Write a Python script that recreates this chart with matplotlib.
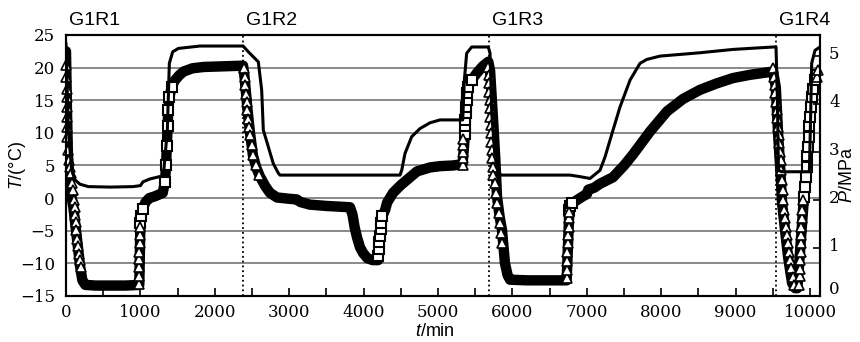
import matplotlib
matplotlib.use('Agg')
import matplotlib.pyplot as plt
import matplotlib.transforms as mtransforms

plt.rcParams['mathtext.fontset'] = 'custom'
plt.rcParams['mathtext.it'] = 'Liberation Sans:italic'
plt.rcParams['mathtext.rm'] = 'Liberation Sans'

# temperature, square markers (left axis)
t_sq = [0, 12, 25, 45, 70, 100, 130, 160, 190, 220, 260, 400, 600, 800, 985,
        1000, 1010, 1030, 1070, 1120, 1200, 1300, 1330, 1345, 1355, 1365, 1375,
        1390, 1420, 1460, 1520, 1580, 1700, 1850, 2100, 2380,
        2400, 2440, 2473, 2513, 2560, 2607, 2680, 2742, 2836, 3000, 3100, 3150,
        3280, 3500, 3817, 3850, 3880, 3911, 3950, 3992, 4050, 4120, 4194,
        4200, 4205, 4212, 4220, 4228, 4238, 4250, 4290, 4315, 4395, 4500, 4583,
        4718, 4892, 5027, 5200, 5330,
        5363, 5363, 5365, 5370, 5375, 5385, 5392, 5408, 5453, 5524, 5600, 5676,
        5700, 5740, 5770, 5793, 5830, 5860, 5900, 5935, 5968, 6200, 6500, 6729,
        6765, 6780, 6800, 6868, 6950, 7000, 7020, 7100, 7177, 7352, 7500, 7621,
        7849, 8078, 8293, 8522, 8750, 8965, 9194, 9503,
        9540, 9570, 9600, 9624, 9664, 9705, 9758, 9800, 9830,
        9919, 9933, 9946, 9955, 9964, 9973, 9982, 9991, 10000, 10013, 10027,
        10045, 10067, 10098, 10134]
T_sq = [22.5, 14, 7, 3, 0.5, -1.5, -4.5, -7.5, -10.5, -12.6, -13.3, -13.4, -13.4, -13.4, -13.3,
        -3.8, -2.8, -1.6, -0.6, 0.0, 0.3, 0.8, 2.5, 5, 8, 11, 13.5,
        15.5, 17.0, 18.0, 18.8, 19.4, 19.9, 20.1, 20.2, 20.3,
        18.5, 13.5, 10.0, 6.5, 4.6, 3.3, 1.8, 0.8, 0.1, -0.1, -0.2, -0.6,
        -1.0, -1.2, -1.4, -2.5, -4.5, -6.0, -7.5, -8.4, -9.2, -9.5, -9.5,
        -8.8, -7.8, -6.8, -5.8, -4.8, -3.8, -2.8, -1.8, -0.7, 0.8, 2.0, 2.8,
        4.1, 4.7, 4.9, 5.0, 5.2,
        9.9, 11.0, 12.0, 13.0, 14.0, 15.0, 16.1, 17.1, 18.1, 19.2, 20.2, 20.9,
        19.5, 12, 6, 0.2, -3, -4.9, -10, -11.8, -12.5, -12.6, -12.6, -12.6,
        -1.8, -1.2, -0.8, -0.3, 0.3, 0.6, 1.3, 1.6, 2.2, 3.2, 5.0, 6.7,
        10.2, 13.3, 15.2, 16.6, 17.6, 18.4, 18.9, 19.4,
        17, 10, 4.5, -0.7, -4.9, -9, -13, -13.8, -13.8,
        0.2, 1.75, 3.3, 4.8, 6.4, 7.9, 9.4, 11.0, 12.5, 14.0, 15.5,
        16.8, 18.1, 18.9, 19.4]

# time spans where the squares stand apart as open marks
sq_open_spans = [(1000, 1030), (1330, 1420), (4200, 4255), (5363, 5453),
                 (6765, 6800), (9919, 10098)]

# temperature, triangle markers (left axis)
t_tri = [5, 6, 8, 9, 10, 12, 14, 20, 30, 45, 54, 62, 80, 90, 107, 115, 125, 134, 140, 150, 161, 170, 188, 200,
         980, 981, 982, 984, 986, 988, 990, 995,
         2392, 2401, 2410, 2419, 2428, 2437, 2446, 2460, 2473, 2495, 2518, 2554, 2598,
         5332, 5332, 5335, 5338, 5340,
         5676, 5680, 5685, 5690, 5695, 5699, 5704, 5708, 5713, 5717, 5721, 5726, 5735,
         5744, 5766, 5780, 5798, 5815, 5833, 5847, 5860,
         6729, 6732, 6735, 6740, 6745, 6750, 6755, 6760, 6765,
         9507, 9516, 9525, 9534, 9543, 9552, 9561, 9570, 9579, 9588, 9597, 9606, 9615,
         9624, 9633, 9642, 9655, 9668, 9682, 9695, 9709, 9722, 9735, 9749, 9767, 9785,
         9855, 9860, 9864, 9868, 9872, 9876, 9880, 9884, 9888, 9893, 9900,
         10090, 10110]
T_tri = [20.4, 18.6, 16.8, 15.5, 14.0, 12.5, 10.9, 9.4, 7.4, 5.8, 4.8, 3.8, 2.3, 1.2, -0.3, -1.3, -2.6, -3.6, -4.9, -6.2, -7.4, -8.5, -9.5, -10.5,
         -13.1, -11.9, -10.6, -9.4, -8.2, -6.9, -5.6, -4.5,
         19.9, 18.6, 17.3, 16.0, 14.8, 13.5, 12.2, 10.9, 9.7, 8.2, 6.6, 5.1, 3.6,
         5.1, 6.1, 7.1, 8.1, 9.1,
         20.15, 18.87, 17.59, 16.32, 15.04, 13.76, 12.48, 11.21, 9.93, 8.65, 7.38, 6.10, 4.82,
         3.54, 2.27, 0.73, -0.8, -2.33, -3.86, -5.4, -6.93,
         -12.3, -11.0, -9.7, -8.2, -6.9, -5.6, -4.4, -3.1, -2.1,
         19.89, 18.61, 17.34, 16.06, 14.78, 13.51, 12.23, 10.95, 9.67, 8.4, 7.12, 5.84, 4.31,
         2.78, 1.24, -0.29, -1.82, -3.1, -4.37, -5.65, -6.93, -8.2, -9.48, -10.76, -12.04, -13.31,
         -13.3, -12.0, -10.8, -9.5, -8.2, -6.9, -5.65, -4.37, -3.1, -1.8, -0.3,
         18.6, 19.6]

# pressure (right axis)
t_p = [0, 31, 76, 121, 188, 300, 600, 900, 1000, 1035, 1129, 1263, 1308, 1362, 1389,
       1434, 1510, 1800, 2380, 2450, 2540, 2585, 2630, 2652, 2719, 2786, 2854, 2876,
       4000, 4489, 4512, 4556, 4646, 4758, 4892, 5027, 5332, 5354, 5385, 5453, 5676,
       5699, 5722, 5766, 5811, 5856, 6774, 6900, 7043, 7177, 7245, 7312, 7446, 7581,
       7715, 7805, 7984, 8521, 8969, 9507, 9543, 9561, 9575, 9620, 9991, 10009, 10022,
       10067, 10134]
P = [5.25, 3.46, 2.62, 2.42, 2.33, 2.28, 2.27, 2.28, 2.30, 2.38, 2.44, 2.49, 2.50, 3.46, 4.85,
     5.09, 5.16, 5.21, 5.21, 5.09, 4.95, 4.88, 4.29, 3.46, 3.11, 2.76, 2.56, 2.52,
     2.52, 2.52, 2.62, 2.97, 3.32, 3.49, 3.61, 3.67, 3.67, 4.50, 5.06, 5.19, 5.19,
     5.06, 3.81, 2.90, 2.56, 2.52, 2.52, 2.49, 2.45, 2.62, 2.90, 3.25, 3.94, 4.50,
     4.85, 4.93, 5.00, 5.07, 5.14, 5.19, 5.19, 4.15, 2.62, 2.59, 2.59, 3.80, 4.85,
     5.12, 5.19]
p_ticks = [0, 1, 2, 3, 4, 5]

cycle_t = [0, 2380, 5685, 9543]
cycle_lbl = ['G1R1', 'G1R2', 'G1R3', 'G1R4']

fig = plt.figure(figsize=(8.6, 3.42), dpi=100)
ax = fig.add_axes([66 / 860, 1 - 296 / 342, 754 / 860, 261 / 342])
ax2 = ax.twinx()

ax.set_xlim(0, 10134)
ax.set_ylim(-15, 25)
ax.set_yticks(range(-15, 26, 5))
ax.set_xticks(range(0, 10001, 1000))
ax.set_xticks(range(500, 10001, 1000), minor=True)
ax.yaxis.grid(True, color='#808080', lw=1.3)
ax.set_axisbelow(True)
ax.tick_params(axis='x', which='both', direction='in', length=6, width=1.2, pad=6,
               labelsize=12, labelfontfamily='DejaVu Serif')
ax.tick_params(axis='y', length=0, pad=8, labelsize=12, labelfontfamily='DejaVu Serif')

# right axis: tick marks from matplotlib, labels placed by hand so that
# the "0" sits above the x labels like in the original
ax2.set_ylim(0, 5.44)
ax2.set_yticks(p_ticks)
ax2.tick_params(axis='y', direction='in', length=5, width=1.2, labelright=False)
rtrans = mtransforms.blended_transform_factory(ax2.transAxes, ax2.transData)
for p in p_ticks:
    up = 7 if p == 0 else 2
    tr = mtransforms.offset_copy(rtrans, fig=fig, x=9, y=up, units='dots')
    ax2.text(1.0, p, str(p), transform=tr, ha='left', va='center',
             fontsize=12, family='DejaVu Serif')

for a in (ax, ax2):
    for s in a.spines.values():
        s.set_linewidth(1.5)
        s.set_color('k')

for t0 in cycle_t[1:]:
    ax.axvline(t0, color='k', ls=':', lw=1.3, zorder=2)

trans = mtransforms.blended_transform_factory(ax.transData, ax.transAxes)
trans = mtransforms.offset_copy(trans, fig=fig, x=3, y=6, units='dots')
for t0, lbl in zip(cycle_t, cycle_lbl):
    ax.text(t0, 1.0, lbl, transform=trans, ha='left', va='bottom',
            fontsize=14, family='Liberation Sans')

open_idx = [i for i, t in enumerate(t_sq)
            if any(a <= t <= b for a, b in sq_open_spans)]
ax.plot(t_sq, T_sq, color='k', lw=7.5, marker='s', ms=6.5, mfc='white', mec='k',
        mew=1.5, markevery=open_idx, solid_joinstyle='round',
        solid_capstyle='round', zorder=3)
ax.plot(t_tri, T_tri, ls='none', marker='^', ms=7.5, mfc='white', mec='k',
        mew=1.2, zorder=4, clip_on=False)
ax2.plot(t_p, P, color='k', lw=2.2)

fig.text(435 / 860, 1 - 332 / 342, '$t$/min', ha='center', va='center',
         fontsize=13, family='Liberation Sans')
fig.text(17 / 860, 1 - 165 / 342, '$T$/(°C)', ha='center', va='center',
         rotation=90, fontsize=13, family='Liberation Sans')
fig.text(847 / 860, 1 - 175 / 342, '$P$/MPa', ha='center', va='center',
         rotation=90, fontsize=13, family='Liberation Sans')

fig.savefig('out.png', dpi=100)
